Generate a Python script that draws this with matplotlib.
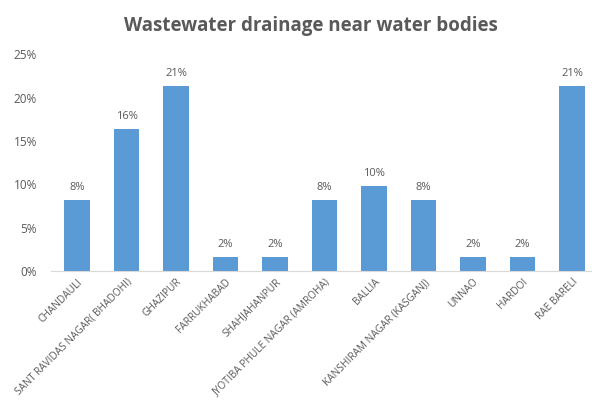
import matplotlib
matplotlib.use("Agg")
import matplotlib.pyplot as plt
from matplotlib.ticker import PercentFormatter

categories = ["CHANDAULI", "SANT RAVIDAS NAGAR( BHADOHI)", "GHAZIPUR", "FARRUKHABAD",
              "SHAHJAHANPUR", "JYOTIBA PHULE NAGAR (AMROHA)", "BALLIA",
              "KANSHIRAM NAGAR (KASGANJ)", "UNNAO", "HARDOI", "RAE BARELI"]
values = [8.2, 16.4, 21.3, 1.6, 1.6, 8.2, 9.8, 8.2, 1.6, 1.6, 21.3]
labels = ["8%", "16%", "21%", "2%", "2%", "8%", "10%", "8%", "2%", "2%", "21%"]
yticks = [0, 5, 10, 15, 20, 25]

plt.rcParams['font.family'] = ['Open Sans', 'DejaVu Sans']
grey = "#595959"

fig = plt.figure(figsize=(5.92, 4.04), dpi=100)
ax = fig.add_axes([0.086, 0.329, 0.922, 0.537])
x = range(len(categories))
ax.bar(x, values, width=0.52, color="#5B9BD5")
for xi, v, l in zip(x, values, labels):
    ax.text(xi, v + 0.8, l, ha="center", va="bottom", fontsize=8, color=grey)

ax.set_xlim(-0.53, 10.5)
ax.set_ylim(0, 25)
ax.set_yticks(yticks)
ax.yaxis.set_major_formatter(PercentFormatter(decimals=0))
ax.set_xticks(list(x))
ax.set_xticklabels(categories, rotation=45, ha="right", rotation_mode="anchor",
                   fontsize=7.3, color=grey)
ax.tick_params(axis="y", labelsize=8.5, labelcolor=grey, length=0, pad=10)
ax.tick_params(axis="x", length=0, pad=4)
for s in ["top", "right", "left"]:
    ax.spines[s].set_visible(False)
ax.spines["bottom"].set_color("#D9D9D9")

fig.text(0.525, 0.935, "Wastewater drainage near water bodies", ha="center", va="center",
         fontsize=13.5, fontweight="bold", color=grey)

fig.savefig("out.png", dpi=100)
